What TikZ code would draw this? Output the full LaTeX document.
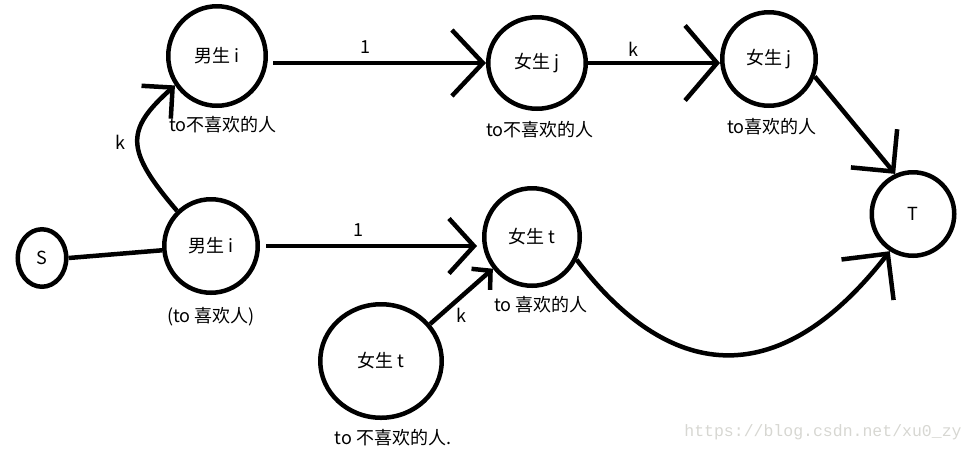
\documentclass[tikz,border=0pt]{standalone}
\usepackage{fontspec}
\setmainfont{Noto Sans CJK SC}
\newfontfamily\wmfont{Liberation Mono}
\usetikzlibrary{arrows.meta,shapes.geometric}
\definecolor{wmgray}{RGB}{215,215,210}
\begin{document}
\begin{tikzpicture}[x=1pt,y=-1pt,
  st/.style={draw, ellipse, line width=4.5pt, inner sep=0pt, font=\fontsize{18}{20}\selectfont},
  lbl/.style={font=\fontsize{18}{20}\selectfont, inner sep=0pt},
  edge/.style={line width=4.5pt},
  barb/.style 2 args={-{Straight Barb[length=#1pt,width=#2pt]}}]
\useasboundingbox (0,0) rectangle (976,451);
% nodes
\node[st, minimum width=48.5pt, minimum height=57.5pt] (s) at (42,258) {S};
\node[st, minimum width=97.5pt, minimum height=99.5pt] (b1) at (217,56) {男生 i};
\node[st, minimum width=93.5pt, minimum height=93.5pt] (b2) at (211,246) {男生 i};
\node[st, minimum width=97.5pt, minimum height=91.5pt] (j1) at (537,63) {女生 j};
\node[st, minimum width=93.5pt, minimum height=93.5pt] (j2) at (769,59) {女生 j};
\node[st, minimum width=95.5pt, minimum height=97.5pt] (t1) at (532,237) {女生 t};
\node[st, minimum width=121.5pt, minimum height=113.5pt] (t2) at (381,361) {女生 t};
\node[st, minimum width=82.5pt, minimum height=83.5pt] (T) at (913,214) {T};
% labels under nodes
\node[lbl] (lb1) at (223,125) {to不喜欢的人};
\node[lbl] (lb2) at (211,317) {(to 喜欢人)};
\node[lbl] (lj1) at (540,130) {to不喜欢的人};
\node[lbl] (lj2) at (772,127) {to喜欢的人};
\node[lbl] (lt1) at (541,305) {to 喜欢的人};
\node[lbl] (lt2) at (393,438) {to 不喜欢的人.};
% edge labels
\node[lbl] (k1) at (120,142) {k};
\node[lbl] (w1) at (365,47) {1};
\node[lbl] (k2) at (633,49) {k};
\node[lbl] (w2) at (358,230) {1};
\node[lbl] (k3) at (461,315) {k};
% edges
\draw[edge] (s.east) -- (b2.185);
\draw[edge, barb={22}{44}] (b2.134) .. controls (125,150) and (125,130) .. (b1.215);
\draw[edge, barb={31}{66}] ([xshift=5pt]b1.east |- j1.west) -- (j1.west);
\draw[edge, barb={32}{75}] (j1.east) -- (j1.east -| j2.west);
\draw[edge, barb={30}{60}] (j2.-21) -- (T.114);
\draw[edge, barb={25}{55}] ([xshift=6pt]b2.east) -- ([xshift=-5pt]b2.east -| t1.west);
\draw[edge, barb={13}{28}] (t2.37) -- (t1.219);
\draw[edge, barb={33}{66}] (t1.-27) .. controls (660,370) and (770,405) .. (T.238);
% watermark
\node[inner sep=0pt, text=wmgray, font=\wmfont\fontsize{16.5}{18}\selectfont] (wm) at (823,432) {https://blog.csdn.net/xu0\_zy};
\end{tikzpicture}
\end{document}
